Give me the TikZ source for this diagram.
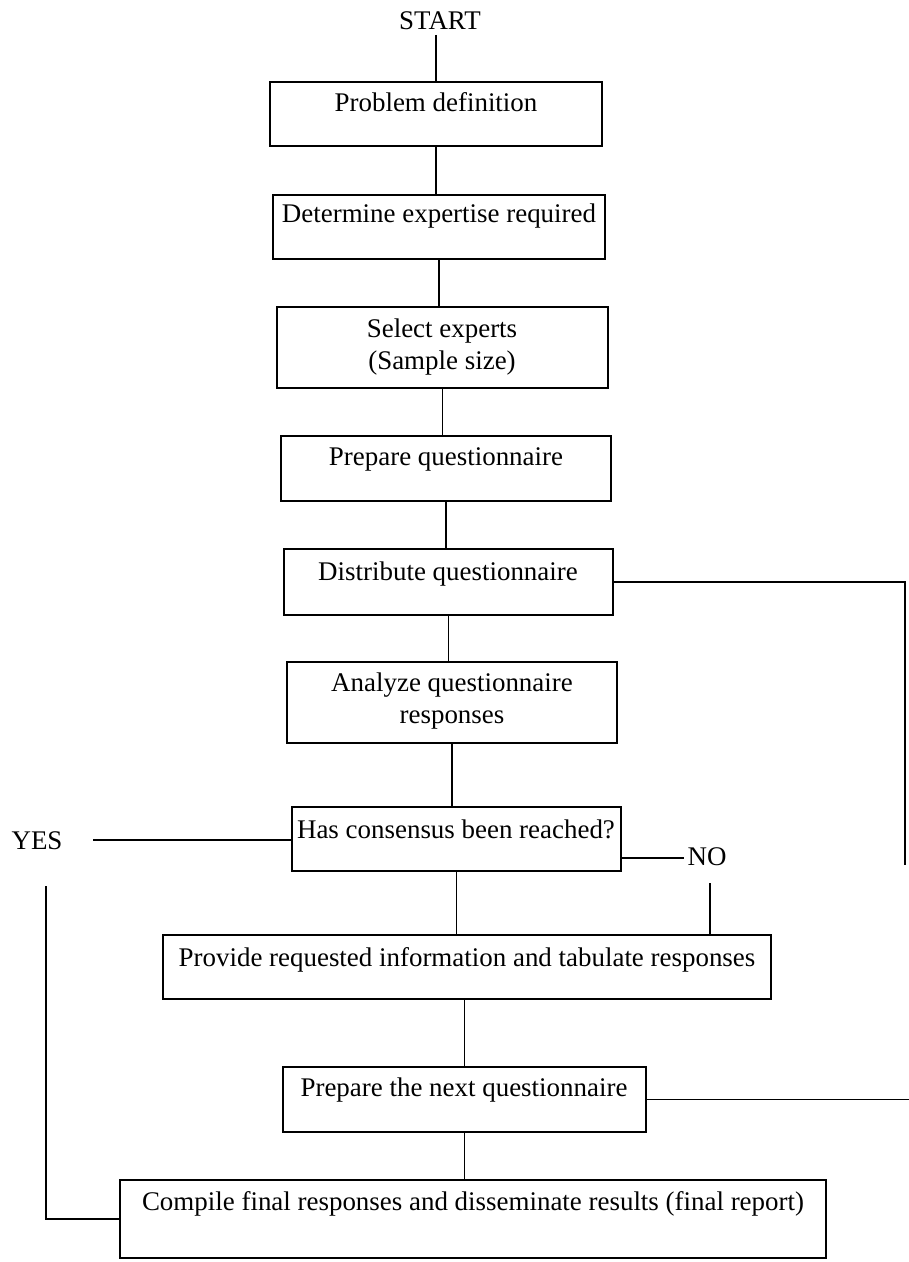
\documentclass[tikz,border=0pt]{standalone}
\usepackage{fontspec}
\setmainfont{Liberation Serif}
\usetikzlibrary{fit}
\begin{document}
\begin{tikzpicture}[x=0.75pt,y=-0.75pt,
  box/.style={draw, line width=1pt, rectangle, inner sep=0pt},
  lbl/.style={inner sep=0pt, font=\fontsize{20.2}{23.5}\selectfont, align=center},
  conn/.style={line width=1pt}]
\useasboundingbox (0,0) rectangle (909,1262);
% boxes
\node[box, fit={(270,82) (602,146)}] (b1) {};
\node[box, fit={(273,195) (605,259)}] (b2) {};
\node[box, fit={(277,307) (608,388)}] (b3) {};
\node[box, fit={(281,436) (611,501)}] (b4) {};
\node[box, fit={(284,549) (613,615)}] (b5) {};
\node[box, fit={(287,662) (617,743)}] (b6) {};
\node[box, fit={(292,807) (621,871)}] (b7) {};
\node[box, fit={(163,935) (771,999)}] (b8) {};
\node[box, fit={(283,1067) (646,1132)}] (b9) {};
\node[box, fit={(120,1180) (826,1258)}] (b10) {};
% texts
\node[lbl, anchor=base] (start) at (440,30) {START};
\node[lbl, anchor=base] (t1) at (436,112) {Problem definition};
\node[lbl, anchor=base] (t2) at (439,223) {Determine expertise required};
\node[lbl] (t3) at (442,347) {Select experts\\(Sample size)};
\node[lbl, anchor=base] (t4) at (446,465) {Prepare questionnaire};
\node[lbl, anchor=base] (t5) at (448,580) {Distribute questionnaire};
\node[lbl] (t6) at (452,701) {Analyze questionnaire\\responses};
\node[lbl, anchor=base] (t7) at (456,838) {Has consensus been reached?};
\node[lbl, anchor=base] (t8) at (467,966) {Provide requested information and tabulate responses};
\node[lbl, anchor=base] (t9) at (464,1096) {Prepare the next questionnaire};
\node[lbl, anchor=base] (t10) at (473,1210) {Compile final responses and disseminate results (final report)};
\node[lbl, anchor=base] (yes) at (37,849) {YES};
\node[lbl, anchor=base] (no) at (707,865) {NO};
% free ends
\coordinate (s0) at (436,35);
\coordinate (r1) at (905,865);
\coordinate (r2) at (909,1096);
\coordinate (y1) at (93,840);
\coordinate (y2) at (46,886);
\coordinate (n0) at (684,858);
\coordinate (n1) at (710,883);
% connectors
\draw[conn] (s0) -- (s0 |- b1.north);
\draw[conn] (b1.south) -- (b1.south |- b2.north);
\draw[conn] (b2.south) -- (b2.south |- b3.north);
\draw[conn] (b3.south) -- (b3.south |- b4.north);
\draw[conn] (b4.south) -- (b4.south |- b5.north);
\draw[conn] (b5.south) -- (b5.south |- b6.north);
\draw[conn] (b6.south) -- (b6.south |- b7.north);
\draw[conn] (b7.south) -- (b7.south |- b8.north);
\draw[conn] (b8.south -| b9.north) -- (b9.north);
\draw[conn] (b9.south) -- (b9.south |- b10.north);
\draw[conn] (b5.east) -| (r1);
\draw[conn] (b9.east) -- (b9.east -| r2);
\draw[conn] (n0 -| b7.east) -- (n0);
\draw[conn] (n1) -- (n1 |- b8.north);
\draw[conn] (y1) -- (y1 -| b7.west);
\draw[conn] (y2) |- (b10.west);
\end{tikzpicture}
\end{document}
